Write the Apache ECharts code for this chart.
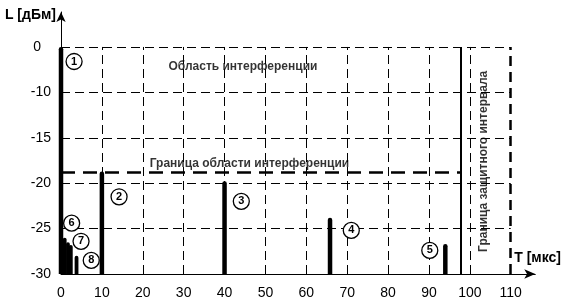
<!DOCTYPE html>
<html>
<head>
<meta charset="utf-8">
<script src="https://cdn.jsdelivr.net/npm/echarts@6/dist/echarts.min.js"></script>
<style>
html,body{margin:0;padding:0;background:#fff}
#chart{width:564px;height:305px}
</style>
</head>
<body>
<div id="chart"></div>
<script>
// pulses: delay T (mks) and level L (dBm)
var pulseT = [0, 10, 40, 65.8, 94, 0.9, 1.7, 2.4, 3.8];
var pulseL = [0, -18.7, -19.8, -23.8, -26.7, -26, -26.5, -26.8, -28];

// circled numbers near the pulses
var markNo = ['1', '2', '3', '4', '5', '6', '7', '8'];
var markT = [3.2, 14.2, 44.1, 71.0, 90.2, 2.6, 4.9, 7.4];
var markL = [-3.2, -21.5, -22, -25.2, -27.4, -24.4, -26.4, -28.5];

var xTicks = [0, 10, 20, 30, 40, 50, 60, 70, 80, 90, 100, 110];
var yTicks = [0, -10, -15, -20, -25, -30];
var gridT = [10, 20, 30, 40, 50, 60, 70, 80, 90, 100];
var gridL = [0, -10, -15, -20, -25];

var interfLevel = -18.8;   // Граница области интерференции
var guardT = 97.7;         // Граница защитного интервала
var windowT = 110;

var textNames = ['Область интерференции', 'Граница области интерференции', 'Граница защитного интервала'];
var textT = [44.5, 46.1, 103.3];
var textL = [-4.4, -17.8, -17.6];

// the level axis is broken: 0..-10 takes as much room as 5 dB below -10
function toAxis(v) { return v >= -10 ? -10 + (v + 10) / 2 : v; }
function fromAxis(c) { return c >= -10 ? -10 + (c + 10) * 2 : c; }

var bottomL = yTicks[yTicks.length - 1];
var topAxis = toAxis(yTicks[0]);

var vLines = gridT.map(function (t) {
    return [{coord: [t, bottomL]}, {coord: [t, topAxis]}];
});
var hLines = gridL.map(function (l) {
    return [{coord: [0, toAxis(l)]}, {coord: [windowT, toAxis(l)]}];
});

var font = 'Liberation Sans, Arial, sans-serif';

var chart = echarts.init(document.getElementById('chart'), null, {renderer: 'canvas'});
var option = {
    animation: false,
    backgroundColor: '#fff',
    grid: {left: 61, right: 28.5, top: 12, bottom: 31},
    xAxis: {
        type: 'value',
        min: 0,
        max: 116,
        interval: 10,
        name: 'T [мкс]',
        nameLocation: 'end',
        nameGap: -21,
        nameTextStyle: {
            color: '#000', fontFamily: font, fontWeight: 'bold', fontSize: 14,
            align: 'left', verticalAlign: 'bottom', padding: [0, 0, 9, 0]
        },
        axisLine: {
            symbol: ['none', 'arrow'], symbolSize: [7, 11],
            lineStyle: {color: '#000', width: 1}
        },
        axisTick: {show: false},
        splitLine: {show: false},
        axisLabel: {
            color: '#000', fontFamily: font, fontSize: 14, margin: 12,
            showMaxLabel: false,
            formatter: function (v) { return xTicks.indexOf(v) >= 0 ? String(v) : ''; }
        }
    },
    yAxis: {
        type: 'value',
        min: -30,
        max: -1.15,
        interval: 5,
        name: 'L [дБм]',
        nameLocation: 'end',
        nameGap: -3,
        nameTextStyle: {
            color: '#000', fontFamily: font, fontWeight: 'bold', fontSize: 14,
            align: 'right', verticalAlign: 'middle', padding: [0, 5, 0, 0]
        },
        axisLine: {
            symbol: ['none', 'arrow'], symbolSize: [7, 10],
            lineStyle: {color: '#000', width: 1}
        },
        axisTick: {show: false},
        splitLine: {show: false},
        axisLabel: {
            color: '#000', fontFamily: font, fontSize: 14, margin: 10,
            showMaxLabel: false,
            formatter: function (c) {
                var v = fromAxis(c);
                if (yTicks.indexOf(v) < 0) return '';
                return v === 0 ? '{z|0}' : String(v);
            },
            rich: {z: {fontFamily: font, fontSize: 14, color: '#000', padding: [0, 10, 0, 0]}}
        }
    },
    series: [
        {
            // grid lines
            type: 'scatter',
            data: [],
            silent: true,
            markLine: {
                silent: true,
                symbol: ['none', 'none'],
                label: {show: false},
                data: vLines.concat(hLines),
                lineStyle: {color: '#000', width: 1, type: [9, 5]}
            }
        },
        {
            type: 'scatter',
            data: [],
            silent: true,
            markLine: {
                silent: true,
                symbol: ['none', 'none'],
                label: {show: false},
                data: [
                    [{coord: [windowT, bottomL], lineStyle: {width: 2.5, type: [10, 6]}},
                     {coord: [windowT, topAxis]}],
                    [{coord: [0, toAxis(interfLevel)], lineStyle: {width: 2.5, type: [14, 8]}},
                     {coord: [guardT, toAxis(interfLevel)]}],
                    [{coord: [guardT, bottomL], lineStyle: {width: 2, type: 'solid'}},
                     {coord: [guardT, topAxis]}]
                ],
                lineStyle: {color: '#000'}
            }
        },
        {
            // pulses
            type: 'custom',
            silent: true,
            data: pulseT.map(function (t, i) { return [t, toAxis(pulseL[i])]; }),
            renderItem: function (params, api) {
                var p0 = api.coord([api.value(0), bottomL]);
                var p1 = api.coord([api.value(0), api.value(1)]);
                var w = params.dataIndex >= 5 ? 3.8 : 4.5;
                return {
                    type: 'rect',
                    shape: {x: p0[0] - w / 2, y: p1[1], width: w, height: p0[1] - p1[1], r: [w / 2, w / 2, 0, 0]},
                    style: {fill: '#000'}
                };
            }
        },
        {
            // circled numbers
            type: 'scatter',
            silent: true,
            symbol: 'circle',
            symbolSize: 16,
            itemStyle: {color: '#fff', borderColor: '#000', borderWidth: 1.3, opacity: 1},
            label: {
                show: true, position: 'inside', color: '#000', textBorderWidth: 0,
                fontFamily: font, fontWeight: 'bold', fontSize: 11,
                formatter: function (p) { return markNo[p.dataIndex]; }
            },
            data: markT.map(function (t, i) { return [t, toAxis(markL[i])]; }),
            z: 5
        },
        {
            // captions
            type: 'scatter',
            silent: true,
            symbolSize: 0,
            itemStyle: {color: '#000'},
            data: textT.map(function (t, i) {
                return {
                    value: [t, toAxis(textL[i])],
                    label: {rotate: i === 2 ? 90 : 0}
                };
            }),
            label: {
                show: true, position: 'inside', color: '#000', textBorderWidth: 0,
                fontFamily: font, fontWeight: 'bold', fontSize: 12,
                formatter: function (p) { return textNames[p.dataIndex]; }
            },
            z: 6
        }
    ]
};
chart.setOption(option);
</script>
</body>
</html>
